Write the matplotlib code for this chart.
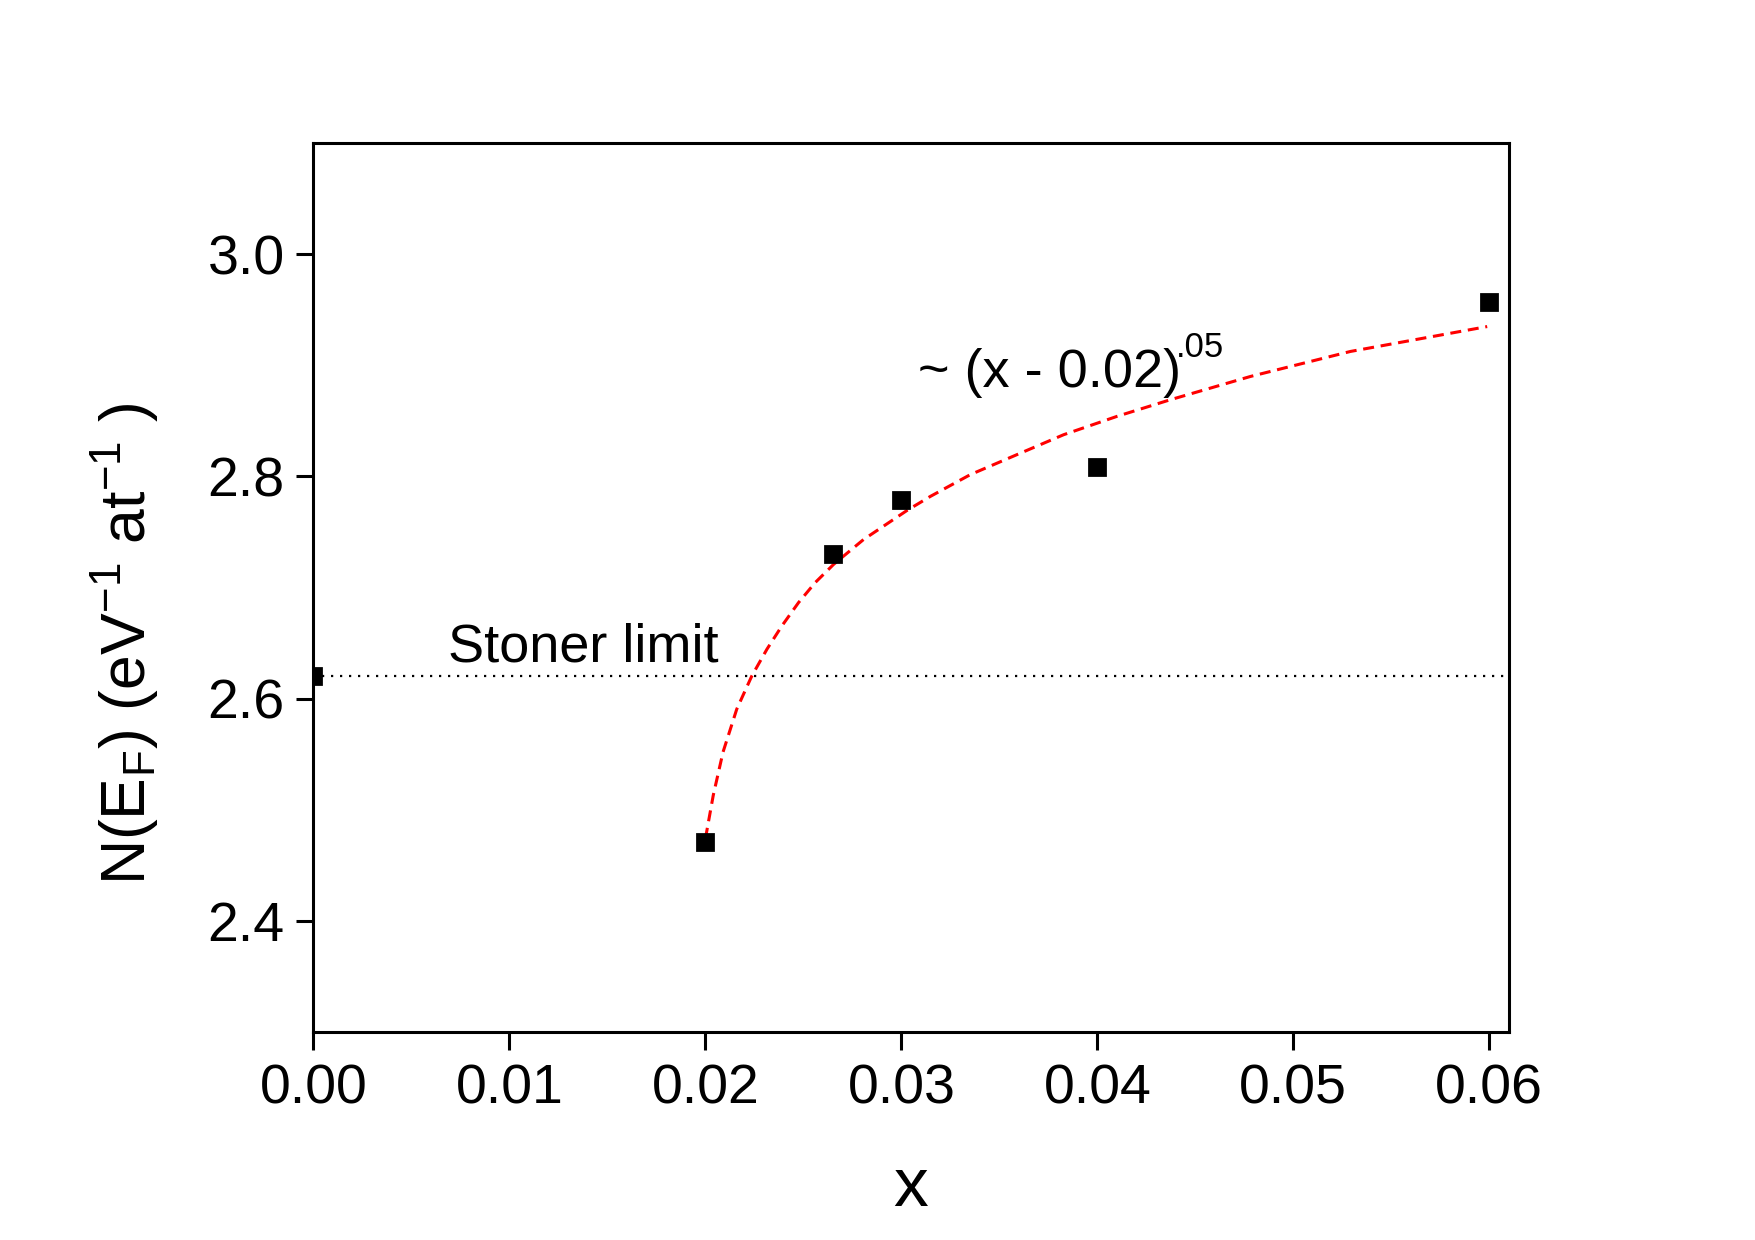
import numpy as np
import matplotlib
matplotlib.use('Agg')
import matplotlib.pyplot as plt

plt.rcParams['font.family'] = ['Liberation Sans', 'DejaVu Sans']
plt.rcParams['mathtext.fontset'] = 'custom'
plt.rcParams['mathtext.rm'] = 'Liberation Sans'
plt.rcParams['mathtext.it'] = 'Liberation Sans:italic'
plt.rcParams['mathtext.bf'] = 'Liberation Sans:bold'

# measured points
x_data = [0.0, 0.02, 0.0265, 0.03, 0.04, 0.06]
n_ef = [2.62, 2.471, 2.730, 2.779, 2.808, 2.957]

# fitted curve
x_fit = [0.0200, 0.0204, 0.0209, 0.0216, 0.02237, 0.02314, 0.0239, 0.02475,
         0.0256, 0.02654, 0.02807, 0.0303, 0.03148, 0.03352, 0.0359, 0.03828,
         0.0410, 0.04373, 0.04781, 0.05291, 0.05989]
y_fit = [2.474, 2.513, 2.552, 2.5906, 2.6205, 2.6445, 2.6654, 2.6864,
         2.7044, 2.7208, 2.7432, 2.7695, 2.782, 2.8016, 2.8196, 2.8375,
         2.854, 2.869, 2.8899, 2.9124, 2.9348]

stoner = 2.62
x_ticks = [0.00, 0.01, 0.02, 0.03, 0.04, 0.05, 0.06]
y_ticks = [2.4, 2.6, 2.8, 3.0]

fig = plt.figure(figsize=(8.775, 6.2), dpi=200)
ax = fig.add_axes([0.1786, 0.1677, 0.8598 - 0.1786, 0.8847 - 0.1677])

ax.axhline(stoner, color='black', lw=0.8, linestyle=(0, (1, 3.05)), zorder=1)
ax.plot(x_fit, y_fit, color='red', lw=1.1, linestyle=(0, (3.6, 2.2)), zorder=2)
ax.plot(x_data, n_ef, 's', color='black', ms=5.5, mew=1, zorder=3)

ax.set_xlim(0.0, 0.061)
ax.set_ylim(2.3, 3.1)
ax.set_xticks(x_ticks)
ax.set_xticklabels(['%.2f' % v for v in x_ticks])
ax.set_yticks(y_ticks)
ax.set_yticklabels(['%.1f' % v for v in y_ticks])
ax.tick_params(direction='out', length=6.3, width=1.1, labelsize=20)
ax.tick_params(axis='x', pad=5)
ax.tick_params(axis='y', pad=4)
for s in ax.spines.values():
    s.set_linewidth(1.1)

ax.text(0.00687, 2.633, 'Stoner limit', fontsize=19.5, va='baseline', ha='left')
ax.text(0.03086, 2.880, '~ (x - 0.02)', fontsize=19.5, va='baseline', ha='left')
ax.text(0.0440, 2.9076, '.05', fontsize=12.5, va='baseline', ha='left')

fig.text(0.519, 0.0274, 'x', fontsize=25, ha='center', va='baseline')
fig.text(0.071, 0.4806,
         r'N(E$_{\mathregular{F}}$) (eV$^{\mathregular{-1}}$ at$^{\mathregular{-1}}$ )',
         fontsize=22.5, rotation=90, ha='center', va='center')

fig.savefig('out.png', dpi=200)
